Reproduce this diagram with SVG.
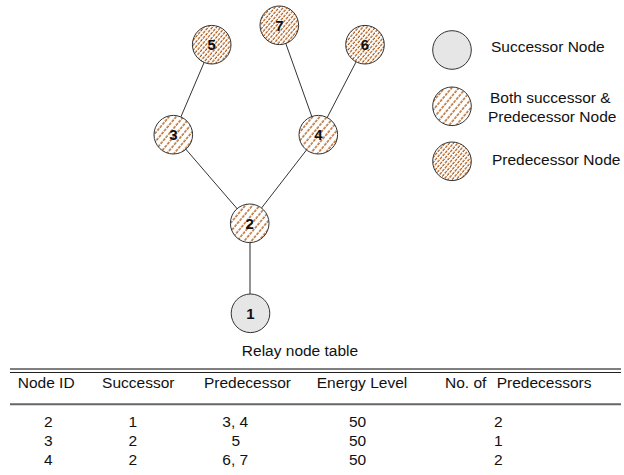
<svg xmlns="http://www.w3.org/2000/svg" width="624" height="475" viewBox="0 0 624 475">
<style>
text{font-family:"Liberation Sans",Arial,sans-serif;fill:#111}
.num{font-weight:bold;font-size:15px;text-anchor:middle}
.lg{font-size:15.5px}
.tb{font-size:15.5px;text-anchor:middle}
.node{stroke:#333;stroke-width:1}
.edge{stroke:#333;stroke-width:1;fill:none}
</style>
<defs>
<pattern id="hatchS" patternUnits="userSpaceOnUse" width="5.5" height="8" patternTransform="rotate(40)">
<rect width="5.5" height="8" fill="#fff"/>
<line x1="1" y1="0" x2="1" y2="8" stroke="#a84a00" stroke-width="1.2" stroke-dasharray="3 1"/>
</pattern>
<pattern id="hatchD" patternUnits="userSpaceOnUse" width="3.2" height="8" patternTransform="rotate(40)">
<rect width="3.2" height="8" fill="#fff"/>
<line x1="1" y1="0" x2="1" y2="8" stroke="#a84a00" stroke-width="1.1" stroke-dasharray="3 1"/>
</pattern>
</defs>
<g id="connectors">
<line class="edge" x1="211.7" y1="44.7" x2="173.3" y2="134.7"/>
<line class="edge" x1="279.3" y1="25.3" x2="318.3" y2="134.7"/>
<line class="edge" x1="365" y1="44.7" x2="318.3" y2="134.7"/>
<line class="edge" x1="173.3" y1="134.7" x2="249.7" y2="223.3"/>
<line class="edge" x1="318.3" y1="134.7" x2="249.7" y2="223.3"/>
<line x1="250" y1="223.3" x2="250" y2="313.3" stroke="#777" stroke-width="1.6"/>
</g>
<g id="node5"><circle class="node" cx="211.7" cy="44.7" r="19.3" fill="url(#hatchD)"/><text class="num" x="211.7" y="50">5</text></g>
<g id="node7"><circle class="node" cx="279.3" cy="25.3" r="19.3" fill="url(#hatchD)"/><text class="num" x="279.3" y="30.6">7</text></g>
<g id="node6"><circle class="node" cx="365" cy="44.7" r="19.3" fill="url(#hatchD)"/><text class="num" x="365" y="50">6</text></g>
<g id="node3"><circle class="node" cx="173.3" cy="134.7" r="19.3" fill="url(#hatchS)"/><text class="num" x="173.3" y="140">3</text></g>
<g id="node4"><circle class="node" cx="318.3" cy="134.7" r="19.3" fill="url(#hatchS)"/><text class="num" x="318.3" y="140">4</text></g>
<g id="node2"><circle class="node" cx="249.7" cy="223.3" r="19.3" fill="url(#hatchS)"/><text class="num" x="249.7" y="228.6">2</text></g>
<g id="node1"><circle class="node" cx="250.5" cy="313.3" r="19.3" fill="#e6e6e6"/><text class="num" x="250.5" y="318.6">1</text></g>
<g id="legend">
<circle class="node" cx="452" cy="50" r="19.3" fill="#e6e6e6"/>
<text class="lg" x="491" y="52">Successor Node</text>
<circle class="node" cx="452" cy="106.3" r="19.3" fill="url(#hatchS)"/>
<text class="lg" x="490" y="103">Both successor &amp;</text>
<text class="lg" x="488" y="121.5">Predecessor Node</text>
<circle class="node" cx="452" cy="161.3" r="19.3" fill="url(#hatchD)"/>
<text class="lg" x="492" y="165">Predecessor Node</text>
</g>
<g id="table">
<text class="tb" x="300" y="356">Relay node table</text>
<line x1="10" y1="369" x2="621" y2="369" stroke="#555" stroke-width="1.5"/>
<line x1="10" y1="372.5" x2="621" y2="372.5" stroke="#222" stroke-width="1"/>
<text class="tb" x="46.2" y="388.3">Node ID</text>
<text class="tb" x="138.3" y="388.3">Successor</text>
<text class="tb" x="247.5" y="388.3">Predecessor</text>
<text class="tb" x="362" y="388.3">Energy Level</text>
<text class="lg" x="445" y="388.3">No. of</text>
<text class="lg" x="496.7" y="388.3">Predecessors</text>
<line x1="10" y1="404.3" x2="621" y2="404.3" stroke="#666" stroke-width="2"/>
<text class="tb" x="48.3" y="426.7">2</text>
<text class="tb" x="132.7" y="426.7">1</text>
<text class="tb" x="235.3" y="426.7">3, 4</text>
<text class="tb" x="357.5" y="426.7">50</text>
<text class="tb" x="498.3" y="426.7">2</text>
<text class="tb" x="48.3" y="445.7">3</text>
<text class="tb" x="132.7" y="445.7">2</text>
<text class="tb" x="235.8" y="445.7">5</text>
<text class="tb" x="357.5" y="445.7">50</text>
<text class="tb" x="498.3" y="445.7">1</text>
<text class="tb" x="48.3" y="465">4</text>
<text class="tb" x="132.7" y="465">2</text>
<text class="tb" x="235.3" y="465">6, 7</text>
<text class="tb" x="357.5" y="465">50</text>
<text class="tb" x="498.3" y="465">2</text>
</g>
</svg>
